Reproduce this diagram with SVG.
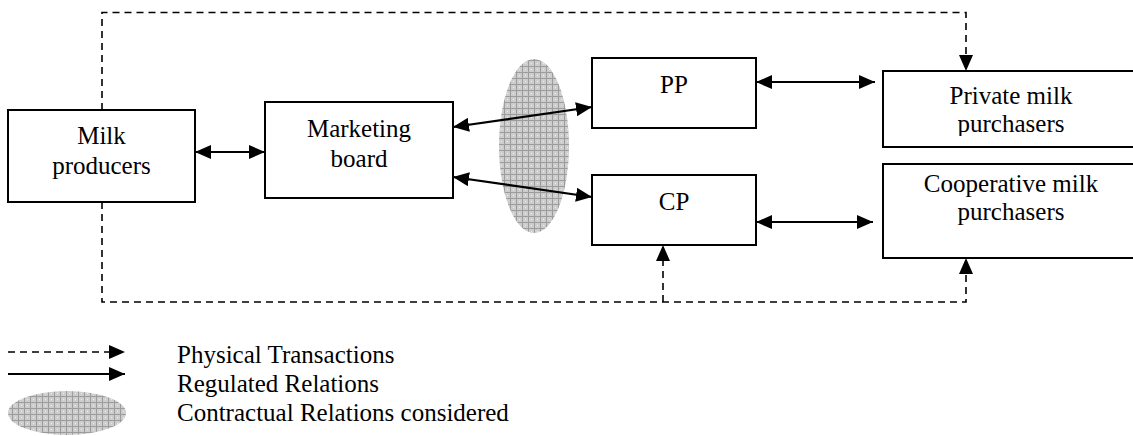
<svg xmlns="http://www.w3.org/2000/svg" width="1133" height="436" viewBox="0 0 1133 436">
<style>
.box{fill:#fff;stroke:#000;stroke-width:2}
.t{font-family:"Liberation Serif","Times New Roman",serif;font-size:25px;fill:#000}
.c{text-anchor:middle}
.solid{fill:none;stroke:#000;stroke-width:2.2}
.dash{fill:none;stroke:#000;stroke-width:1.6;stroke-dasharray:7 5}
.hatch{fill:url(#hatch)}
</style>
<defs>
<pattern id="hatch" width="6" height="6" patternUnits="userSpaceOnUse">
<rect width="6" height="6" fill="#cdcdcd"/>
<rect x="0" y="0" width="6" height="1" fill="#9c9c9c"/>
<rect x="0" y="0" width="1" height="6" fill="#9c9c9c"/>
<rect x="3" y="3" width="1" height="1" fill="#ededed"/>
</pattern>
<marker id="ah" markerUnits="userSpaceOnUse" markerWidth="17" markerHeight="14" refX="16" refY="7" orient="auto-start-reverse">
<path d="M0,0 L16,7 L0,14 z" fill="#000"/>
</marker>
<clipPath id="clipPriv"><rect x="883" y="71" width="260" height="65"/></clipPath>
</defs>

<g id="contract-ellipse">
<ellipse class="hatch" cx="534" cy="146" rx="35" ry="87"/>
</g>

<g id="milk-producers">
<rect class="box" x="8" y="110" width="187" height="92"/>
<text class="t c" x="101.5" y="144">Milk</text>
<text class="t c" x="101.5" y="174">producers</text>
</g>

<g id="marketing-board">
<rect class="box" x="265" y="102" width="188" height="96"/>
<text class="t c" x="359" y="137">Marketing</text>
<text class="t c" x="359" y="167">board</text>
</g>

<g id="pp">
<rect class="box" x="592" y="58" width="164" height="70"/>
<text class="t c" x="674" y="93">PP</text>
</g>

<g id="cp">
<rect class="box" x="592" y="175" width="164" height="70"/>
<text class="t c" x="674" y="210">CP</text>
</g>

<g id="private-purchasers">
<rect class="box" x="883" y="71" width="260" height="76"/>
<g clip-path="url(#clipPriv)">
<text class="t c" x="1011" y="104">Private milk</text>
<text class="t c" x="1011" y="132">purchasers</text>
</g>
</g>

<g id="coop-purchasers">
<rect class="box" x="883" y="164" width="260" height="94"/>
<text class="t c" x="1011" y="192">Cooperative milk</text>
<text class="t c" x="1011" y="220">purchasers</text>
</g>

<g id="connectors">
<line class="solid" x1="195" y1="152" x2="265" y2="152" marker-start="url(#ah)" marker-end="url(#ah)"/>
<line class="solid" x1="453" y1="127" x2="592" y2="107" marker-start="url(#ah)" marker-end="url(#ah)"/>
<line class="solid" x1="453" y1="177" x2="592" y2="197" marker-start="url(#ah)" marker-end="url(#ah)"/>
<line class="solid" x1="756" y1="82" x2="875" y2="82" marker-start="url(#ah)" marker-end="url(#ah)"/>
<line class="solid" x1="756" y1="222" x2="873" y2="222" marker-start="url(#ah)" marker-end="url(#ah)"/>
<path class="dash" d="M102,110 V12.5 H966 V71" marker-end="url(#ah)"/>
<path class="dash" d="M102,202 V302 H966 V258" marker-end="url(#ah)"/>
<path class="dash" d="M663,302 V245" marker-end="url(#ah)"/>
</g>

<g id="legend">
<path class="dash" d="M8,352 H125" marker-end="url(#ah)"/>
<path class="solid" d="M8,374 H125" marker-end="url(#ah)"/>
<ellipse class="hatch" cx="67" cy="413" rx="59" ry="22"/>
<text class="t" x="177" y="363">Physical Transactions</text>
<text class="t" x="177" y="392">Regulated Relations</text>
<text class="t" x="177" y="421">Contractual Relations considered</text>
</g>
</svg>
